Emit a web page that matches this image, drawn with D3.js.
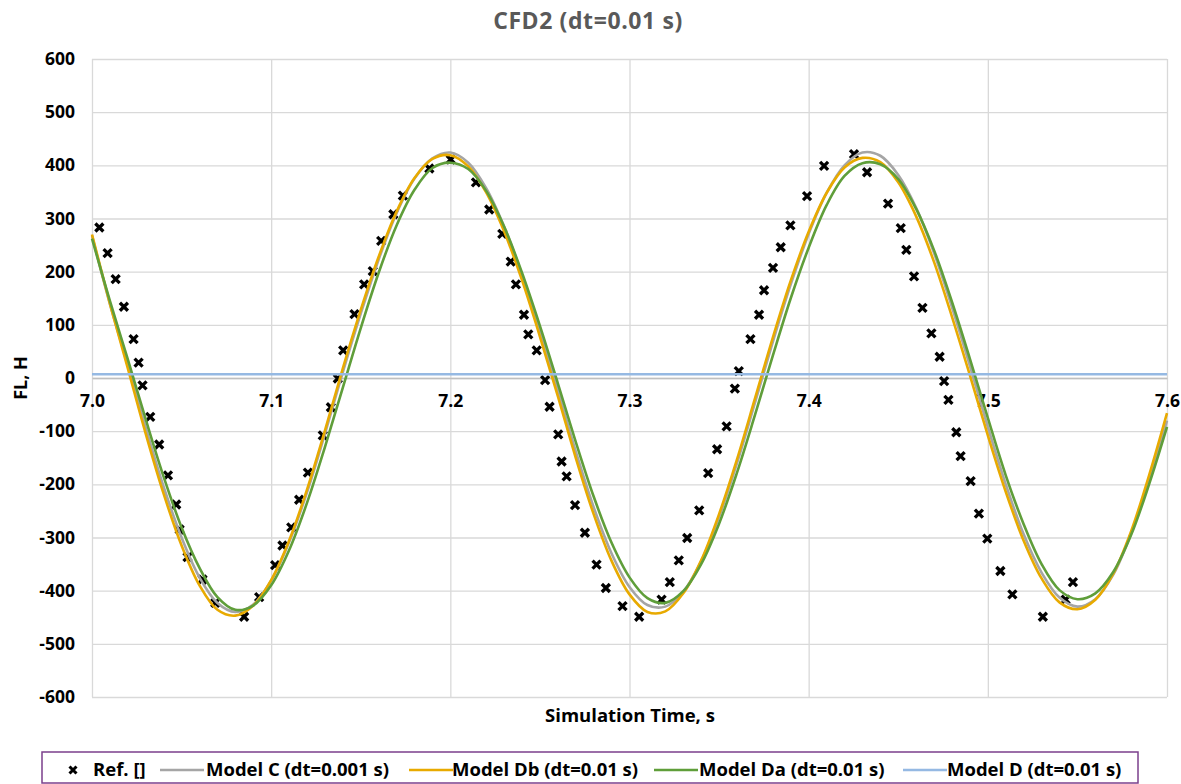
<!DOCTYPE html>
<html>
<head>
<meta charset="utf-8">
<script src="https://cdn.jsdelivr.net/npm/d3@7"></script>
<style>
  html, body { margin: 0; padding: 0; background: #ffffff; }
  svg { display: block; font-family: "Open Sans", "Noto Sans", sans-serif; }
</style>
</head>
<body>
<svg id="chart" width="1181" height="784"></svg>
<script>
// Sample times for the model curves (s)
const modelTime = [7.00,7.01,7.02,7.03,7.04,7.05,7.06,7.07,7.08,7.09,
  7.10,7.11,7.12,7.13,7.14,7.15,7.16,7.17,7.18,7.19,
  7.20,7.21,7.22,7.23,7.24,7.25,7.26,7.27,7.28,7.29,
  7.30,7.31,7.32,7.33,7.34,7.35,7.36,7.37,7.38,7.39,
  7.40,7.41,7.42,7.43,7.44,7.45,7.46,7.47,7.48,7.49,
  7.50,7.51,7.52,7.53,7.54,7.55,7.56,7.57,7.58,7.59,7.60];

// Model C (dt=0.001 s)
const modelC = [268,139,24,-94,-205,-300,-375,-423,-440,-426,
  -381,-309,-215,-105,11,121,223,310,375,413,
  424,405,357,285,194,88,-23,-138,-243,-330,
  -393,-427,-430,-402,-345,-261,-160,-47,68,176,
  271,348,400,424,418,382,320,235,133,23,
  -92,-200,-294,-366,-413,-430,-416,-370,-292,-192,-80];

// Model Db (dt=0.01 s)
const modelDb = [270,140,18,-105,-218,-315,-390,-436,-447,-428,
  -380,-306,-210,-99,18,128,228,313,376,412,
  419,398,349,276,184,78,-34,-150,-256,-344,
  -407,-440,-439,-405,-343,-256,-153,-39,76,183,
  275,348,396,414,406,368,304,218,115,5,
  -108,-214,-306,-377,-422,-435,-417,-368,-288,-183,-66];

// Model Da (dt=0.01 s)
const modelDa = [262,145,35,-78,-186,-281,-357,-412,-436,-428,
  -390,-324,-235,-130,-18,94,198,287,354,395,
  405,393,352,285,198,98,-10,-120,-223,-310,
  -375,-414,-423,-401,-350,-274,-178,-70,42,150,
  245,325,380,404,402,374,318,240,143,36,
  -75,-183,-275,-350,-399,-416,-405,-365,-295,-200,-92];

// Model D (dt=0.01 s)
const modelDTime = [7.0,7.1,7.2,7.3,7.4,7.5,7.6];
const modelD = [7,7,7,7,7,7,7];

// Reference points
const refTime = [7.0041,7.0087,7.0132,7.0178,7.0232,7.0260,7.0282,7.0325,7.0375,7.0424,
  7.0470,7.0489,7.0533,7.0617,7.0688,7.0849,7.0933,7.1022,7.1063,7.1112,
  7.1156,7.1205,7.1288,7.1333,7.1372,7.1402,7.1465,7.1519,7.1567,7.1614,
  7.1682,7.1735,7.1883,7.2002,7.2143,7.2217,7.2290,7.2337,7.2366,7.2411,
  7.2435,7.2482,7.2529,7.2554,7.2602,7.2621,7.2649,7.2696,7.2751,7.2816,
  7.2868,7.2961,7.3054,7.3179,7.3225,7.3275,7.3322,7.3389,7.3439,7.3489,
  7.3542,7.3588,7.3610,7.3675,7.3723,7.3751,7.3801,7.3844,7.3898,7.3991,
  7.4086,7.4253,7.4326,7.4443,7.4514,7.4545,7.4588,7.4635,7.4685,7.4731,
  7.4756,7.4780,7.4824,7.4848,7.4904,7.4950,7.4997,7.5070,7.5137,7.5307,
  7.5434,7.5475];
const refValue = [283,235,186,134,73,29,-14,-73,-125,-183,
  -238,-285,-337,-379,-423,-449,-412,-352,-315,-281,
  -229,-178,-108,-55,-1,52,120,176,201,258,
  308,343,394,411,368,317,271,219,176,119,
  82,52,-4,-54,-106,-157,-185,-239,-291,-351,
  -395,-429,-449,-417,-384,-343,-301,-249,-179,-134,
  -91,-20,13,73,119,165,207,246,287,342,
  399,421,387,328,282,241,191,132,84,40,
  -6,-41,-102,-147,-194,-255,-302,-363,-407,-449,
  -417,-384];

// Axis ticks
const xTicks = [7.0,7.1,7.2,7.3,7.4,7.5,7.6];
const yTicks = [-600,-500,-400,-300,-200,-100,0,100,200,300,400,500,600];

const seriesNames = ["Ref. []","Model C (dt=0.001 s)","Model Db (dt=0.01 s)","Model Da (dt=0.01 s)","Model D (dt=0.01 s)"];
const seriesColors = ["#000000","#a5a5a5","#e8aa00","#5f9e3a","#95b9e3"];

const svg = d3.select("#chart");
const plotLeft = 92, plotRight = 1167, plotTop = 59, plotBottom = 697;
const fontFamily = "'Open Sans', 'Noto Sans', sans-serif";

const x = d3.scaleLinear().domain([7.0, 7.6]).range([plotLeft, plotRight]);
const y = d3.scaleLinear().domain([-600, 600]).range([plotBottom, plotTop]);

// Title
svg.append("text")
  .attr("x", 588).attr("y", 29)
  .attr("text-anchor", "middle")
  .attr("font-size", 23).attr("font-weight", 700)
  .attr("letter-spacing", 0.6)
  .attr("fill", "#595959")
  .text("CFD2 (dt=0.01 s)");

// Grid lines
svg.append("g")
  .attr("transform", `translate(0,${plotBottom})`)
  .call(d3.axisBottom(x).tickValues(xTicks).tickSize(-(plotBottom - plotTop)).tickFormat(""))
  .call(g => g.select(".domain").remove())
  .call(g => g.selectAll("line").attr("stroke", "#d9d9d9").attr("stroke-width", 1.3));

svg.append("g")
  .attr("transform", `translate(${plotLeft},0)`)
  .call(d3.axisLeft(y).tickValues(yTicks).tickSize(-(plotRight - plotLeft)).tickFormat(""))
  .call(g => g.select(".domain").remove())
  .call(g => g.selectAll("line").attr("stroke", "#d9d9d9").attr("stroke-width", 1.3));

// Y axis labels
svg.append("g")
  .attr("transform", `translate(${plotLeft},0)`)
  .call(d3.axisLeft(y).tickValues(yTicks).tickSize(0).tickPadding(17).tickFormat(d => String(d)))
  .call(g => g.select(".domain").remove())
  .call(g => g.selectAll("text")
    .attr("font-family", fontFamily)
    .attr("font-size", 17.5).attr("font-weight", 700).attr("fill", "#000"));

// X axis across zero, labels below
svg.append("g")
  .attr("transform", `translate(0,${y(0)})`)
  .call(d3.axisBottom(x).tickValues(xTicks).tickSize(0).tickPadding(17).tickFormat(d3.format(".1f")))
  .call(g => g.select(".domain").attr("stroke", "#bfbfbf").attr("stroke-width", 1.3))
  .call(g => g.selectAll("text")
    .attr("font-family", fontFamily)
    .attr("font-size", 17.5).attr("font-weight", 700).attr("fill", "#000"));

// Axis titles
svg.append("text")
  .attr("x", 630).attr("y", 722)
  .attr("text-anchor", "middle")
  .attr("font-size", 18.5).attr("font-weight", 700).attr("fill", "#000")
  .text("Simulation Time, s");

svg.append("text")
  .attr("transform", "translate(27,378) rotate(-90)")
  .attr("text-anchor", "middle")
  .attr("font-size", 18).attr("font-weight", 700).attr("fill", "#000")
  .text("FL, H");

// Reference markers
const xMark = "M-4,-4L4,4M-4,4L4,-4";
const refData = refTime.map((t, i) => ({ t, v: refValue[i] }));
svg.append("g")
  .selectAll("path")
  .data(refData)
  .join("path")
  .attr("transform", d => `translate(${x(d.t)},${y(d.v)})`)
  .attr("d", xMark)
  .attr("stroke", seriesColors[0])
  .attr("stroke-width", 3.3)
  .attr("fill", "none");

// Model curves
const line = d3.line().x(d => x(d.t)).y(d => y(d.v)).curve(d3.curveCatmullRom.alpha(0.5));
const curves = [
  { times: modelTime, values: modelC, color: seriesColors[1] },
  { times: modelTime, values: modelDb, color: seriesColors[2] },
  { times: modelTime, values: modelDa, color: seriesColors[3] },
  { times: modelDTime, values: modelD, color: seriesColors[4] }
];
svg.append("g")
  .selectAll("path")
  .data(curves)
  .join("path")
  .attr("d", c => line(c.times.map((t, i) => ({ t, v: c.values[i] }))))
  .attr("fill", "none")
  .attr("stroke", c => c.color)
  .attr("stroke-width", 2.6)
  .attr("stroke-linejoin", "round");

// Legend
const legend = svg.append("g");
legend.append("rect")
  .attr("x", 42).attr("y", 752).attr("width", 1096).attr("height", 31)
  .attr("fill", "#fff").attr("stroke", "#7b3f8c").attr("stroke-width", 1.5);

const legendKeyX = [73, 160, 409, 654, 903];
const legendTextX = [93, 206, 452, 699, 947];
const legendY = 770;
seriesNames.forEach((name, i) => {
  if (i === 0) {
    legend.append("path")
      .attr("transform", `translate(${legendKeyX[i]},${legendY})`)
      .attr("d", "M-3.5,-3.5L3.5,3.5M-3.5,3.5L3.5,-3.5")
      .attr("stroke", seriesColors[i]).attr("stroke-width", 3).attr("fill", "none");
  } else {
    legend.append("line")
      .attr("x1", legendKeyX[i]).attr("x2", legendKeyX[i] + 44)
      .attr("y1", legendY).attr("y2", legendY)
      .attr("stroke", seriesColors[i]).attr("stroke-width", 2.6);
  }
  legend.append("text")
    .attr("x", legendTextX[i]).attr("y", legendY)
    .attr("dy", "0.35em")
    .attr("font-size", 18.5).attr("font-weight", 700).attr("fill", "#000")
    .text(name);
});
</script>
</body>
</html>
